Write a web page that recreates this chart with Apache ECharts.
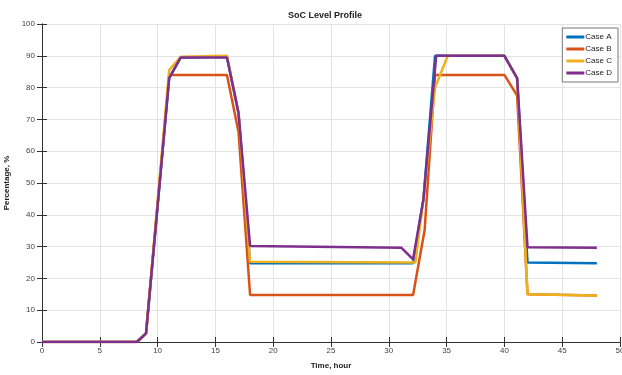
<!DOCTYPE html>
<html>
<head>
<meta charset="utf-8">
<script src="https://cdn.jsdelivr.net/npm/echarts@6/dist/echarts.min.js"></script>
<style>
  html, body { margin: 0; padding: 0; background: #fff; }
  #chart { width: 622px; height: 375px; }
</style>
</head>
<body>
<div id="chart"></div>
<script>
// SoC level profile
const caseNames = ['Case A', 'Case B', 'Case C', 'Case D']
const caseColors = ['#0072BD', '#D95319', '#EDB120', '#7E2F8E']

const caseA_t = [0, 8.2, 9, 11, 12, 16, 17, 18, 32.1, 33, 34, 40, 41.1, 42, 48]
const caseA_v = [0, 0, 2.7, 83, 89.5, 89.7, 72, 24.8, 24.8, 45, 90, 90, 83, 25, 24.8]

const caseB_t = [0, 8.2, 9, 11, 16, 17, 18, 32.1, 33.1, 34, 40, 41.1, 42, 48]
const caseB_v = [0, 0, 2.7, 84, 84, 66, 14.8, 14.8, 35.2, 84, 84, 77.5, 15, 14.6]

const caseC_t = [0, 8.2, 9, 11, 12, 16, 17, 18, 32.3, 33, 34, 35.1, 40, 41.1, 42, 48]
const caseC_v = [0, 0, 2.7, 85.5, 89.7, 90, 72, 25.2, 25, 45, 80, 90, 90, 83, 15, 14.6]

const caseD_t = [0, 8.2, 9, 11, 12, 16, 17, 18, 31.1, 32.1, 33, 34.1, 40, 41.1, 42, 48]
const caseD_v = [0, 0, 2.7, 83, 89.5, 89.5, 72, 30.2, 29.6, 26, 45, 90, 90, 83, 29.8, 29.6]

const xTicks = { min: 0, max: 50, interval: 5 }
const yTicks = { min: 0, max: 100, interval: 10 }

const allT = [caseA_t, caseB_t, caseC_t, caseD_t]
const allV = [caseA_v, caseB_v, caseC_v, caseD_v]

const chart = echarts.init(document.getElementById('chart'))

const font = 'Liberation Sans, Arial, sans-serif'

chart.setOption({
    animation: false,
    backgroundColor: '#fff',
    title: {
        text: 'SoC Level Profile',
        left: 320,
        textAlign: 'center',
        top: 6,
        textStyle: { fontSize: 9, fontWeight: 'bold', color: '#222', fontFamily: font }
    },
    legend: {
        data: caseNames,
        orient: 'vertical',
        right: 4,
        top: 28,
        padding: [5, 6, 5, 4],
        itemGap: 4,
        itemWidth: 18,
        itemHeight: 3,
        icon: 'rect',
        backgroundColor: '#fff',
        borderColor: '#777',
        borderWidth: 1,
        textStyle: { fontSize: 8, color: '#222', fontFamily: font, padding: [0, 0, 0, -4] }
    },
    grid: { left: 42, right: 2, top: 24, bottom: 33, containLabel: false, outerBoundsMode: 'none' },
    xAxis: [
        {
            type: 'value', position: 'bottom',
            min: xTicks.min, max: xTicks.max, interval: xTicks.interval,
            name: 'Time, hour', nameLocation: 'middle', nameGap: 20,
            nameTextStyle: { fontSize: 8, fontWeight: 'bold', color: '#222', fontFamily: font },
            axisLine: { show: true, lineStyle: { color: '#333', width: 1 } },
            axisTick: { inside: true, length: 5, lineStyle: { color: '#333' } },
            axisLabel: { fontSize: 8, color: '#444', fontFamily: font, margin: 5 },
            splitLine: { show: true, lineStyle: { color: '#e3e3e3', width: 1 } }
        },
        {
            type: 'value', position: 'top',
            min: xTicks.min, max: xTicks.max, interval: xTicks.interval,
            axisLine: { show: true, lineStyle: { color: '#333', width: 1 } },
            axisTick: { inside: true, length: 5, lineStyle: { color: '#333' } },
            axisLabel: { show: false },
            splitLine: { show: false }
        }
    ],
    yAxis: [
        {
            type: 'value', position: 'left',
            min: yTicks.min, max: yTicks.max, interval: yTicks.interval,
            name: 'Percentage, %', nameLocation: 'middle', nameGap: 31,
            nameTextStyle: { fontSize: 8, fontWeight: 'bold', color: '#222', fontFamily: font },
            axisLine: { show: true, lineStyle: { color: '#333', width: 1 } },
            axisTick: { inside: true, length: 5, lineStyle: { color: '#333' } },
            axisLabel: { fontSize: 8, color: '#444', fontFamily: font, margin: 7 },
            splitLine: { show: true, lineStyle: { color: '#e3e3e3', width: 1 } }
        },
        {
            type: 'value', position: 'right',
            min: yTicks.min, max: yTicks.max, interval: yTicks.interval,
            axisLine: { show: true, lineStyle: { color: '#333', width: 1 } },
            axisTick: { inside: true, length: 5, lineStyle: { color: '#333' } },
            axisLabel: { show: false },
            splitLine: { show: false }
        }
    ],
    series: caseNames.map((name, i) => ({
        name: name,
        type: 'line',
        xAxisIndex: 0,
        yAxisIndex: 0,
        symbol: 'none',
        color: caseColors[i],
        lineStyle: { width: 2.5, color: caseColors[i] },
        data: allT[i].map((t, j) => [t, allV[i][j]])
    }))
})
</script>
</body>
</html>
